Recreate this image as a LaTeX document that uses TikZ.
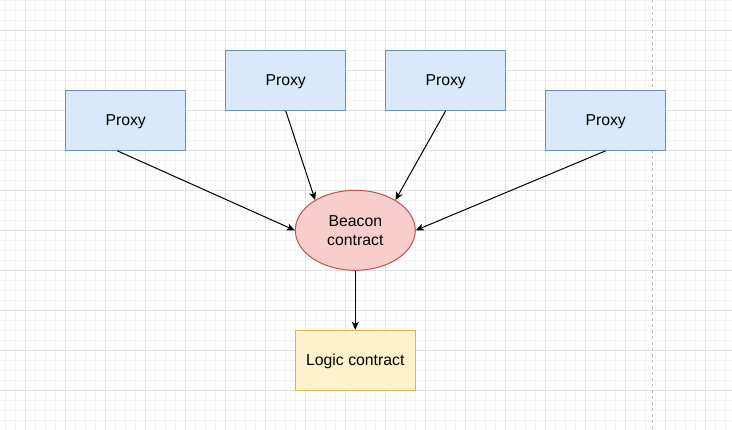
\documentclass[tikz,border=0pt]{standalone}
\usepackage{fontspec}
\setmainfont{Liberation Sans}
\usetikzlibrary{arrows.meta,calc,shapes.geometric}
\definecolor{proxyfill}{HTML}{DAE8FC}
\definecolor{proxydraw}{HTML}{6C8EBF}
\definecolor{beaconfill}{HTML}{F8CECC}
\definecolor{beacondraw}{HTML}{B85450}
\definecolor{logicfill}{HTML}{FFF2CC}
\definecolor{logicdraw}{HTML}{D6B656}
\definecolor{gridmajor}{HTML}{E2E2E2}
\definecolor{gridminor}{HTML}{F4F4F4}
\definecolor{pagebreak}{HTML}{C0C0C0}
\tikzset{
  boxtext/.style={font=\fontsize{15.8}{19.2}\selectfont, text height=11.4pt, text depth=0pt},
  proxybox/.style={draw=proxydraw, fill=proxyfill, line width=1pt, minimum width=120pt, minimum height=60pt, inner sep=0pt, boxtext},
  logicbox/.style={draw=logicdraw, fill=logicfill, line width=1pt, minimum width=120pt, minimum height=60pt, inner sep=0pt, boxtext},
  beaconnode/.style={ellipse, draw=beacondraw, fill=beaconfill, line width=1pt, minimum width=120pt, minimum height=80pt, inner sep=0pt, align=center, font=\fontsize{15.8}{19.2}\selectfont},
  link/.style={draw=black, line width=1pt, -{Stealth[length=8pt,width=7pt,inset=2pt]}},
}
\begin{document}
\begin{tikzpicture}[x=1pt,y=-1pt]
\useasboundingbox (0,0) rectangle (732,430);
\fill[white] (0,0) rectangle (732,430);
% minor grid
\foreach \x in {5.7,15.7,...,730}
  \draw[gridminor, line width=1pt] (\x,0) -- (\x,430);
\foreach \y in {0.7,10.7,...,430}
  \draw[gridminor, line width=1pt] (0,\y) -- (732,\y);
% major grid
\foreach \x in {25.7,65.7,...,730}
  \draw[gridmajor, line width=1pt] (\x,0) -- (\x,430);
\foreach \y in {30.7,70.7,...,430}
  \draw[gridmajor, line width=1pt] (0,\y) -- (732,\y);
% page break line
\draw[pagebreak, line width=0.8pt, dash pattern=on 3pt off 3pt] (652.7,0) -- (652.7,430);

\node[proxybox] (p1) at (125.7,120.3) {Proxy};
\node[proxybox] (p2) at (285.7,80.3) {Proxy};
\node[proxybox] (p3) at (445.7,80.3) {Proxy};
\node[proxybox] (p4) at (605.7,120.3) {Proxy};
\node[beaconnode] (b) at (355.3,230.3) {Beacon\\contract};
\node[logicbox] (l) at (355.3,360.3) {Logic contract};

\draw[link] ($(p1.south west)!0.43!(p1.south east)$) -- (b.west);
\draw[link] (p2.south) -- (b.143);
\draw[link] (p3.south) -- (b.37);
\draw[link] (p4.south) -- (b.east);
\draw[link] (b.south) -- (l.north);
\end{tikzpicture}
\end{document}
